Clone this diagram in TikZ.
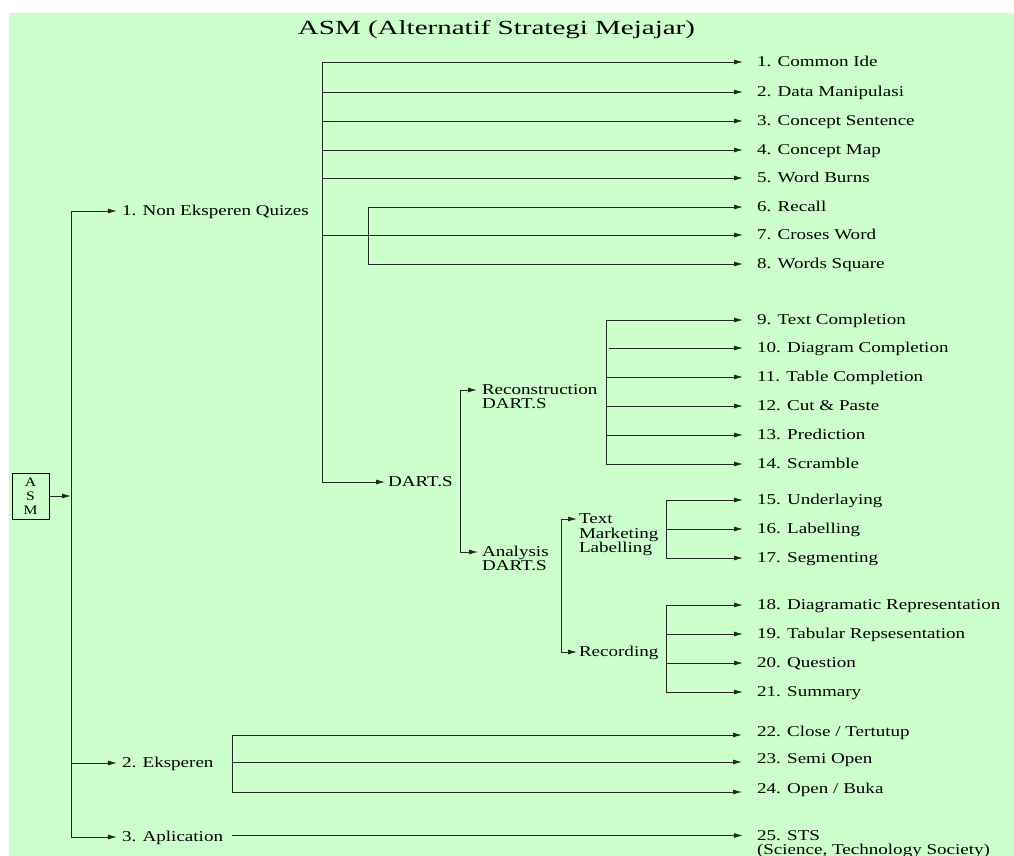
\documentclass[tikz,border=0pt]{standalone}
\usepackage{fontspec}
\setmainfont{Liberation Serif}[FakeStretch=1.27]
\newfontfamily\titlefont{Liberation Serif}[FakeStretch=1.45]
\newfontfamily\boxfont{Liberation Serif}[FakeStretch=1.2]
\usetikzlibrary{arrows.meta}
\definecolor{bg}{HTML}{CCFFCC}
\newcommand\mlines[1]{\begin{tabular}[t]{@{}l@{}}#1\end{tabular}}
\begin{document}
\begin{tikzpicture}[x=1pt,y=-1pt,
  line/.style={line width=0.9pt, draw=black!85},
  arr/.style={line, -{Latex[length=9pt,width=5pt]}},
  lbl/.style={anchor=west, inner sep=0pt, outer sep=0pt, font=\fontsize{15}{14}\selectfont, text height=12pt, text depth=3pt},
  mlbl/.style={anchor=base west, inner sep=0pt, outer sep=0pt, font=\fontsize{15}{14}\selectfont},
]
\useasboundingbox (0,0) rectangle (1014,856);
\fill[bg] (9,13) rectangle (1020,862);

% title
\node[inner sep=0pt, font=\titlefont\fontsize{20}{20}\selectfont] (title) at (496.5,30) {ASM (Alternatif Strategi Mejajar)};

% root box
\node[draw, line width=0.9pt, minimum width=37pt, minimum height=46pt, inner sep=0pt, align=center,
      font=\boxfont\fontsize{13}{14}\selectfont] (asm) at (30.5,496) {A\\S\\M};

% level 1 labels
\node[lbl] (n1) at (122,211) {1. Non Eksperen Quizes};
\node[lbl] (n2) at (122,763) {2. Eksperen};
\node[lbl] (n3) at (122,837) {3. Aplication};

% intermediate labels
\node[lbl] (dart) at (388,482) {DART.S};
\node[mlbl] (recon) at (482,394.5) {\mlines{Reconstruction\\DART.S}};
\node[mlbl] (anal) at (482,556.5) {\mlines{Analysis\\DART.S}};
\node[mlbl] (tml) at (579,523.5) {\mlines{Text\\Marketing\\Labelling}};
\node[lbl] (recd) at (579,652) {Recording};

% items
\node[lbl] (i1) at (757,62) {1. Common Ide};
\node[lbl] (i2) at (757,92) {2. Data Manipulasi};
\node[lbl] (i3) at (757,121) {3. Concept Sentence};
\node[lbl] (i4) at (757,150) {4. Concept Map};
\node[lbl] (i5) at (757,178) {5. Word Burns};
\node[lbl] (i6) at (757,207) {6. Recall};
\node[lbl] (i7) at (757,235) {7. Croses Word};
\node[lbl] (i8) at (757,264) {8. Words Square};
\node[lbl] (i9) at (757,320) {9. Text Completion};
\node[lbl] (i10) at (757,348) {10. Diagram Completion};
\node[lbl] (i11) at (757,377) {11. Table Completion};
\node[lbl] (i12) at (757,406) {12. Cut \& Paste};
\node[lbl] (i13) at (757,435) {13. Prediction};
\node[lbl] (i14) at (757,464) {14. Scramble};
\node[lbl] (i15) at (757,500) {15. Underlaying};
\node[lbl] (i16) at (757,529) {16. Labelling};
\node[lbl] (i17) at (757,558) {17. Segmenting};
\node[lbl] (i18) at (757,605) {18. Diagramatic Representation};
\node[lbl] (i19) at (757,634) {19. Tabular Repsesentation};
\node[lbl] (i20) at (757,663) {20. Question};
\node[lbl] (i21) at (757,692) {21. Summary};
\node[lbl] (i22) at (757,732) {22. Close / Tertutup};
\node[lbl] (i23) at (757,759) {23. Semi Open};
\node[lbl] (i24) at (757,789) {24. Open / Buka};
\node[mlbl] (i25) at (757,840) {\mlines{25. STS\\(Science, Technology Society)}};

% coordinates of trunks
\coordinate (t0) at (71,211);
\coordinate (t1) at (71,837);
\coordinate (q0) at (322,62);
\coordinate (qb) at (322,482);
\coordinate (s0) at (368,207);
\coordinate (s1) at (368,264);
\coordinate (d0) at (460,390);
\coordinate (d1) at (460,552);
\coordinate (r0) at (606,320);
\coordinate (r1) at (606,464);
\coordinate (r10) at (609,348);
\coordinate (a0) at (561,519);
\coordinate (a1) at (561,652);
\coordinate (m0) at (666,500);
\coordinate (m1) at (666,558);
\coordinate (c0) at (666,605);
\coordinate (c1) at (666,692);
\coordinate (e0) at (232,735);
\coordinate (e2) at (232,762);
\coordinate (e1) at (232,792);
\coordinate (ap) at (232,835.5);

% main trunk
\draw[line] (t0) -- (t1);
\draw[arr] (asm.east) -- (asm.east -| t0);
\draw[arr] (t0) -- ([xshift=-5pt]n1.west);
\draw[arr] (t0 |- n2.west) -- ([xshift=-5pt]n2.west);
\draw[arr] (t1) -- ([xshift=-5pt]n3.west);

% non eksperen quizes trunk
\draw[line] (q0) -- (qb);
\foreach \k in {1,2,3,4,5,7}{\draw[arr] (q0 |- i\k.west) -- ([xshift=-14pt]i\k.west);}
\draw[line] (s0) -- (s1);
\draw[arr] (s0) -- ([xshift=-14pt]i6.west);
\draw[arr] (s1) -- ([xshift=-14pt]i8.west);
\draw[arr] (qb) -- ([xshift=-3pt]dart.west);

% DART.S trunk
\draw[line] (d0) -- (d1);
\draw[arr] (d0) -- ([xshift=-5pt,yshift=4.5pt]recon.base west);
\draw[arr] (d1) -- ([xshift=-4pt,yshift=4.5pt]anal.base west);

% reconstruction trunk
\draw[line] (r0) -- (r1);
\foreach \k in {9,11,12,13,14}{\draw[arr] (r0 |- i\k.west) -- ([xshift=-14pt]i\k.west);}
\draw[arr] (r10) -- ([xshift=-14pt]i10.west);

% analysis trunk
\draw[line] (a0) -- (a1);
\draw[arr] (a0) -- ([xshift=-2pt,yshift=4.5pt]tml.base west);
\draw[arr] (a1) -- ([xshift=-2pt]recd.west);

% text marketing labelling trunk
\draw[line] (m0) -- (m1);
\foreach \k in {15,16,17}{\draw[arr] (m0 |- i\k.west) -- ([xshift=-14pt]i\k.west);}

% recording trunk
\draw[line] (c0) -- (c1);
\foreach \k in {18,19,20,21}{\draw[arr] (c0 |- i\k.west) -- ([xshift=-14pt]i\k.west);}

% eksperen trunk
\draw[line] (e0) -- (e1);
\draw[arr] (e0) -- ([xshift=-15pt,yshift=-3pt]i22.west);
\draw[arr] (e2) -- ([xshift=-15pt,yshift=-3pt]i23.west);
\draw[arr] (e1) -- ([xshift=-15pt,yshift=-3pt]i24.west);

% aplication
\draw[arr] (ap) -- ([xshift=-14pt,yshift=4.5pt]i25.base west);
\end{tikzpicture}
\end{document}
